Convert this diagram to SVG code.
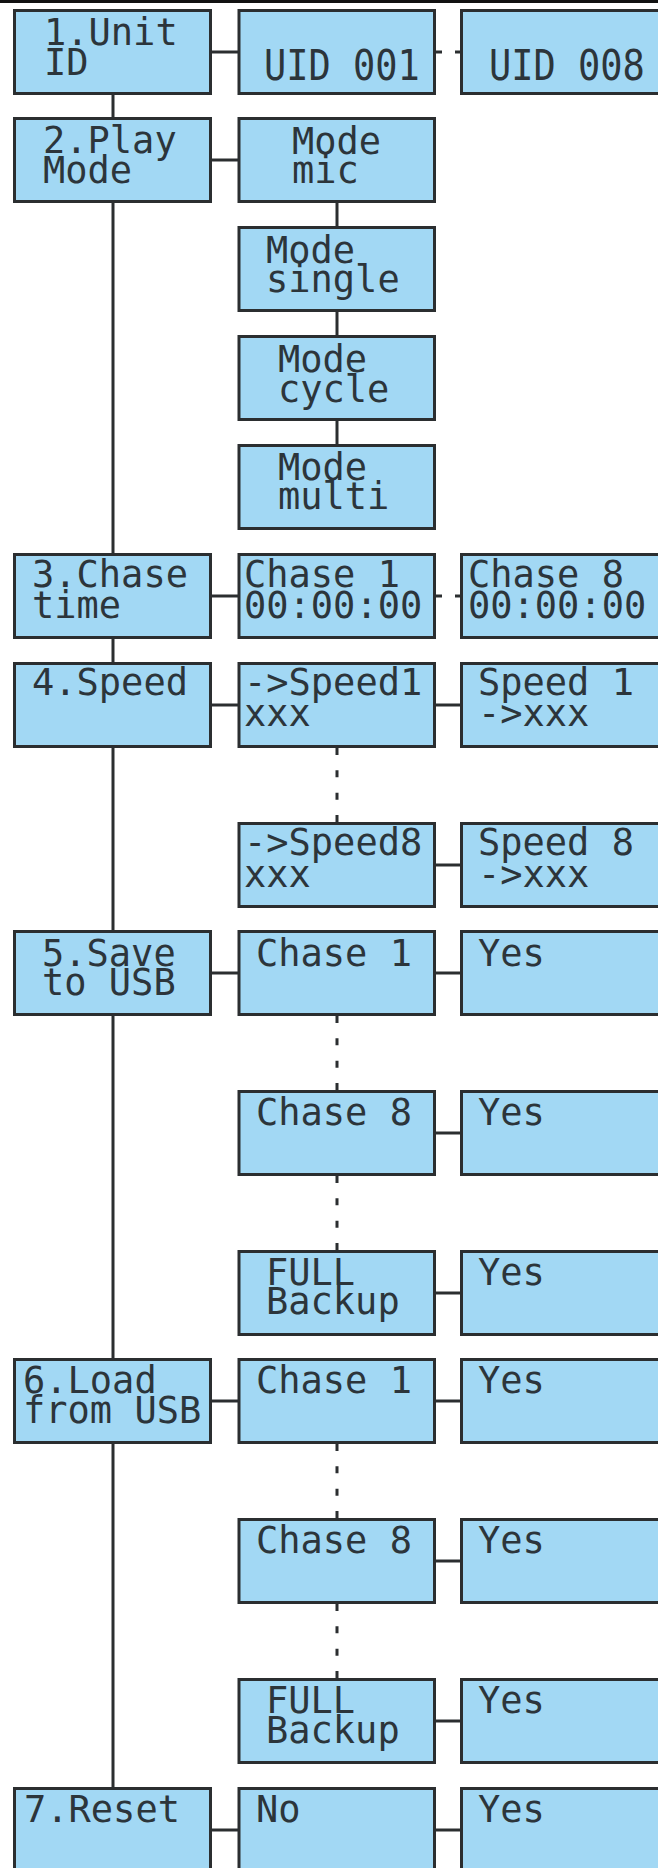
<svg xmlns="http://www.w3.org/2000/svg" width="658" height="1868" viewBox="0 0 658 1868">
<style>
.bx{fill:#a2d8f4;stroke:#2b2e30;stroke-width:3}
.ln{stroke:#2b2e30;stroke-width:3;fill:none}
.dl{stroke:#2b2e30;stroke-width:3;fill:none;stroke-dasharray:7 15.33}
.t{font-family:"DejaVu Sans Mono","Liberation Mono",monospace;font-size:37px;fill:#2c353b;white-space:pre}
</style>
<rect x="0" y="0" width="658" height="3" fill="#111"/>
<g id="connectors">
<line class="ln" x1="113" y1="95" x2="113" y2="1787"/>
<line class="ln" x1="337" y1="203" x2="337" y2="444"/>
<line class="dl" x1="337" y1="748" x2="337" y2="822"/>
<line class="dl" x1="337" y1="1016" x2="337" y2="1090"/>
<line class="dl" x1="337" y1="1176" x2="337" y2="1250"/>
<line class="dl" x1="337" y1="1444" x2="337" y2="1518"/>
<line class="dl" x1="337" y1="1604" x2="337" y2="1678"/>
<line class="ln" x1="212" y1="52" x2="238" y2="52"/>
<line class="ln" x1="212" y1="160" x2="238" y2="160"/>
<line class="ln" x1="212" y1="596" x2="238" y2="596"/>
<line class="ln" x1="212" y1="705" x2="238" y2="705"/>
<line class="ln" x1="212" y1="973" x2="238" y2="973"/>
<line class="ln" x1="212" y1="1401" x2="238" y2="1401"/>
<line class="ln" x1="212" y1="1830" x2="238" y2="1830"/>
<line class="ln" x1="435" y1="52" x2="442" y2="52"/>
<line class="ln" x1="455" y1="52" x2="461" y2="52"/>
<line class="ln" x1="435" y1="596" x2="442" y2="596"/>
<line class="ln" x1="455" y1="596" x2="461" y2="596"/>
<line class="ln" x1="435" y1="705" x2="461" y2="705"/>
<line class="ln" x1="435" y1="865" x2="461" y2="865"/>
<line class="ln" x1="435" y1="973" x2="461" y2="973"/>
<line class="ln" x1="435" y1="1133" x2="461" y2="1133"/>
<line class="ln" x1="435" y1="1293" x2="461" y2="1293"/>
<line class="ln" x1="435" y1="1401" x2="461" y2="1401"/>
<line class="ln" x1="435" y1="1561" x2="461" y2="1561"/>
<line class="ln" x1="435" y1="1721" x2="461" y2="1721"/>
<line class="ln" x1="435" y1="1830" x2="461" y2="1830"/>
</g>
<g id="n-unit-id"><rect class="bx" x="14.5" y="10.5" width="196" height="83"/><text class="t"><tspan x="44" y="45">1.Unit</tspan><tspan x="44" y="75">ID</tspan></text></g>
<g id="n-uid001"><rect class="bx" x="239" y="10.5" width="195.5" height="83"/><text class="t" transform="translate(264,80) scale(1,1.15)">UID 001</text></g>
<g id="n-uid008"><rect class="bx" x="461.5" y="10.5" width="200" height="83"/><text class="t" transform="translate(489,80) scale(1,1.15)">UID 008</text></g>

<g id="n-play-mode"><rect class="bx" x="14.5" y="118.5" width="196" height="83"/><text class="t"><tspan x="43" y="153">2.Play</tspan><tspan x="43" y="183">Mode</tspan></text></g>
<g id="n-mode-mic"><rect class="bx" x="239" y="118.5" width="195.5" height="83"/><text class="t"><tspan x="292" y="154">Mode</tspan><tspan x="292" y="183">mic</tspan></text></g>
<g id="n-mode-single"><rect class="bx" x="239" y="227.5" width="195.5" height="83"/><text class="t"><tspan x="266" y="263">Mode</tspan><tspan x="266" y="292">single</tspan></text></g>
<g id="n-mode-cycle"><rect class="bx" x="239" y="336.5" width="195.5" height="83"/><text class="t"><tspan x="278" y="372">Mode</tspan><tspan x="278" y="402">cycle</tspan></text></g>
<g id="n-mode-multi"><rect class="bx" x="239" y="445.5" width="195.5" height="83"/><text class="t"><tspan x="278" y="480">Mode</tspan><tspan x="278" y="509">multi</tspan></text></g>

<g id="n-chase-time"><rect class="bx" x="14.5" y="554.5" width="196" height="83"/><text class="t"><tspan x="32" y="587">3.Chase</tspan><tspan x="32" y="618">time</tspan></text></g>
<g id="n-chase1-time"><rect class="bx" x="239" y="554.5" width="195.5" height="83"/><text class="t"><tspan x="244" y="587">Chase 1</tspan><tspan x="244" y="618">00:00:00</tspan></text></g>
<g id="n-chase8-time"><rect class="bx" x="461.5" y="554.5" width="200" height="83"/><text class="t"><tspan x="468" y="587">Chase 8</tspan><tspan x="468" y="618">00:00:00</tspan></text></g>

<g id="n-speed"><rect class="bx" x="14.5" y="663.5" width="196" height="83"/><text class="t" x="32" y="695">4.Speed</text></g>
<g id="n-speed1-sel"><rect class="bx" x="239" y="663.5" width="195.5" height="83"/><text class="t"><tspan x="244" y="695">-&gt;Speed1</tspan><tspan x="244" y="726">xxx</tspan></text></g>
<g id="n-speed1-val"><rect class="bx" x="461.5" y="663.5" width="200" height="83"/><text class="t"><tspan x="478" y="695">Speed 1</tspan><tspan x="478" y="726">-&gt;xxx</tspan></text></g>
<g id="n-speed8-sel"><rect class="bx" x="239" y="823.5" width="195.5" height="83"/><text class="t"><tspan x="244" y="855">-&gt;Speed8</tspan><tspan x="244" y="887">xxx</tspan></text></g>
<g id="n-speed8-val"><rect class="bx" x="461.5" y="823.5" width="200" height="83"/><text class="t"><tspan x="478" y="855">Speed 8</tspan><tspan x="478" y="887">-&gt;xxx</tspan></text></g>

<g id="n-save-usb"><rect class="bx" x="14.5" y="931.5" width="196" height="83"/><text class="t"><tspan x="42" y="966">5.Save</tspan><tspan x="42" y="995">to USB</tspan></text></g>
<g id="n-save-chase1"><rect class="bx" x="239" y="931.5" width="195.5" height="83"/><text class="t" x="256" y="966">Chase 1</text></g>
<g id="n-save-chase1-yes"><rect class="bx" x="461.5" y="931.5" width="200" height="83"/><text class="t" x="478" y="966">Yes</text></g>
<g id="n-save-chase8"><rect class="bx" x="239" y="1091.5" width="195.5" height="83"/><text class="t" x="256" y="1125">Chase 8</text></g>
<g id="n-save-chase8-yes"><rect class="bx" x="461.5" y="1091.5" width="200" height="83"/><text class="t" x="478" y="1125">Yes</text></g>
<g id="n-save-full"><rect class="bx" x="239" y="1251.5" width="195.5" height="83"/><text class="t"><tspan x="266" y="1285">FULL</tspan><tspan x="266" y="1314">Backup</tspan></text></g>
<g id="n-save-full-yes"><rect class="bx" x="461.5" y="1251.5" width="200" height="83"/><text class="t" x="478" y="1285">Yes</text></g>

<g id="n-load-usb"><rect class="bx" x="14.5" y="1359.5" width="196" height="83"/><text class="t"><tspan x="23" y="1393">6.Load</tspan><tspan x="23" y="1423">from USB</tspan></text></g>
<g id="n-load-chase1"><rect class="bx" x="239" y="1359.5" width="195.5" height="83"/><text class="t" x="256" y="1393">Chase 1</text></g>
<g id="n-load-chase1-yes"><rect class="bx" x="461.5" y="1359.5" width="200" height="83"/><text class="t" x="478" y="1393">Yes</text></g>
<g id="n-load-chase8"><rect class="bx" x="239" y="1519.5" width="195.5" height="83"/><text class="t" x="256" y="1553">Chase 8</text></g>
<g id="n-load-chase8-yes"><rect class="bx" x="461.5" y="1519.5" width="200" height="83"/><text class="t" x="478" y="1553">Yes</text></g>
<g id="n-load-full"><rect class="bx" x="239" y="1679.5" width="195.5" height="83"/><text class="t"><tspan x="266" y="1713">FULL</tspan><tspan x="266" y="1743">Backup</tspan></text></g>
<g id="n-load-full-yes"><rect class="bx" x="461.5" y="1679.5" width="200" height="83"/><text class="t" x="478" y="1713">Yes</text></g>

<g id="n-reset"><rect class="bx" x="14.5" y="1788.5" width="196" height="83"/><text class="t" x="24" y="1822">7.Reset</text></g>
<g id="n-reset-no"><rect class="bx" x="239" y="1788.5" width="195.5" height="83"/><text class="t" x="256" y="1822">No</text></g>
<g id="n-reset-yes"><rect class="bx" x="461.5" y="1788.5" width="200" height="83"/><text class="t" x="478" y="1822">Yes</text></g>
</svg>
